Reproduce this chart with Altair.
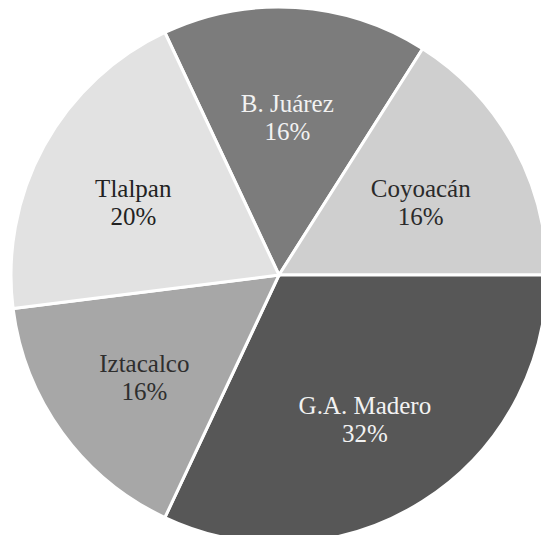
import math
import altair as alt
import pandas as pd

categories = ["B. Juárez", "Coyoacán", "G.A. Madero", "Iztacalco", "Tlalpan"]
values = [16, 16, 32, 16, 20]
fill_colors = ["#7c7c7c", "#cfcfcf", "#575757", "#a7a7a7", "#e2e2e2"]
text_colors = ["#f2f2f2", "#2a2a2a", "#f2f2f2", "#2e2e2e", "#222222"]

df = pd.DataFrame({
    "name": categories,
    "value": values,
    "idx": list(range(len(categories))),
})
df["label"] = [f"{n}\n{v}%" for n, v in zip(categories, values)]

start = -math.radians(25.2)
theta_scale = alt.Scale(domain=[0, 100], range=[start, start + 2 * math.pi])

base = alt.Chart(df).encode(
    theta=alt.Theta("value:Q", stack=True, scale=theta_scale),
    order=alt.Order("idx:Q", sort="ascending"),
    x=alt.value(271),
    y=alt.value(267),
)

pie = base.mark_arc(stroke="white", strokeWidth=3, radius=268).encode(
    color=alt.Color("name:N", scale=alt.Scale(domain=categories, range=fill_colors), legend=None),
)

labels = base.mark_text(
    radius=164, font="Liberation Serif", fontSize=25, lineBreak="\n",
    lineHeight=28, align="center", baseline="middle", dx=-2, dy=-7,
).encode(
    text="label:N",
    color=alt.Color("name:N", scale=alt.Scale(domain=categories, range=text_colors), legend=None),
)

chart = alt.layer(pie, labels).resolve_scale(color="independent").properties(
    width=533, height=527, autosize=alt.AutoSizeParams(type="none"), padding=0,
).configure_view(stroke=None)

chart.save("out.html", embed_options={"renderer": "svg", "actions": False})
